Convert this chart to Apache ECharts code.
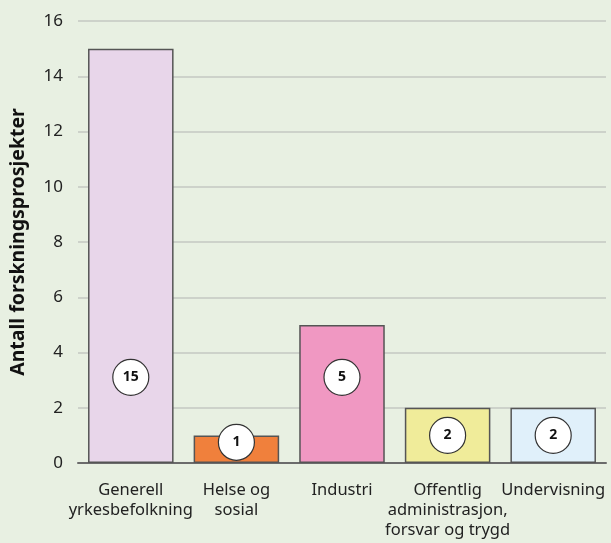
<!DOCTYPE html>
<html><head><meta charset="utf-8">
<script src="https://cdn.jsdelivr.net/npm/echarts@6/dist/echarts.min.js"></script>
<style>html,body{margin:0;padding:0;background:#e8f0e2;}#c{width:611px;height:543px;}</style>
</head><body><div id="c"></div>
<script>
const categories = ["Generell\nyrkesbefolkning", "Helse og\nsosial", "Industri", "Offentlig\nadministrasjon,\nforsvar og trygd", "Undervisning"];
const values = [15, 1, 5, 2, 2];
const barColors = ["#e8d6ea", "#f0803c", "#f098c2", "#f0ec9a", "#e0f0fa"];
const yTicks = { min: 0, max: 16, interval: 2 };
const yName = "Antall forskningsprosjekter";

// badge centre: fixed height on tall bars, middle of short bars (kept clear of the baseline)
function labelPos(v) { return v >= 4 ? 3.1 : Math.max(v / 2, 0.75); }

const chart = echarts.init(document.getElementById('c'), null, { renderer: 'canvas' });
const font = '"Noto Sans", sans-serif';
chart.setOption({
  backgroundColor: '#e8f0e2',
  animation: false,
  grid: { left: 77, right: 5, top: 21, bottom: 80 },
  xAxis: {
    type: 'category', data: categories,
    axisLine: { lineStyle: { color: '#6b6b6b', width: 2 } },
    axisTick: { show: false },
    axisLabel: { color: '#222', fontSize: 16.5, fontFamily: font, lineHeight: 20, margin: 17, interval: 0 }
  },
  yAxis: {
    type: 'value', min: yTicks.min, max: yTicks.max, interval: yTicks.interval,
    name: yName, nameLocation: 'middle', nameGap: 50, nameRotate: 90,
    nameTextStyle: { color: '#111', fontSize: 19.5, fontWeight: 'bold', fontFamily: font },
    axisLabel: { color: '#222', fontSize: 17, fontFamily: font, margin: 15 },
    splitLine: { lineStyle: { color: '#c4c8c2', width: 1.5 } },
    axisLine: { show: false }, axisTick: { show: false }
  },
  series: [
    {
      type: 'bar', barCategoryGap: '19%',
      data: values.map((v, i) => ({ value: v, itemStyle: { color: barColors[i] } })),
      itemStyle: { borderColor: '#555', borderWidth: 1.5 }
    },
    {
      type: 'scatter', symbol: 'circle', symbolSize: 36, z: 5,
      data: values.map((v, i) => ({ value: [i, labelPos(v)], raw: v })),
      itemStyle: { color: '#fff', borderColor: '#333', borderWidth: 1.2, opacity: 1 },
      label: { show: true, position: 'inside', color: '#111', fontWeight: 'bold', fontSize: 14, fontFamily: font,
        formatter: p => String(p.data.raw) }
    }
  ]
});
</script></body></html>
